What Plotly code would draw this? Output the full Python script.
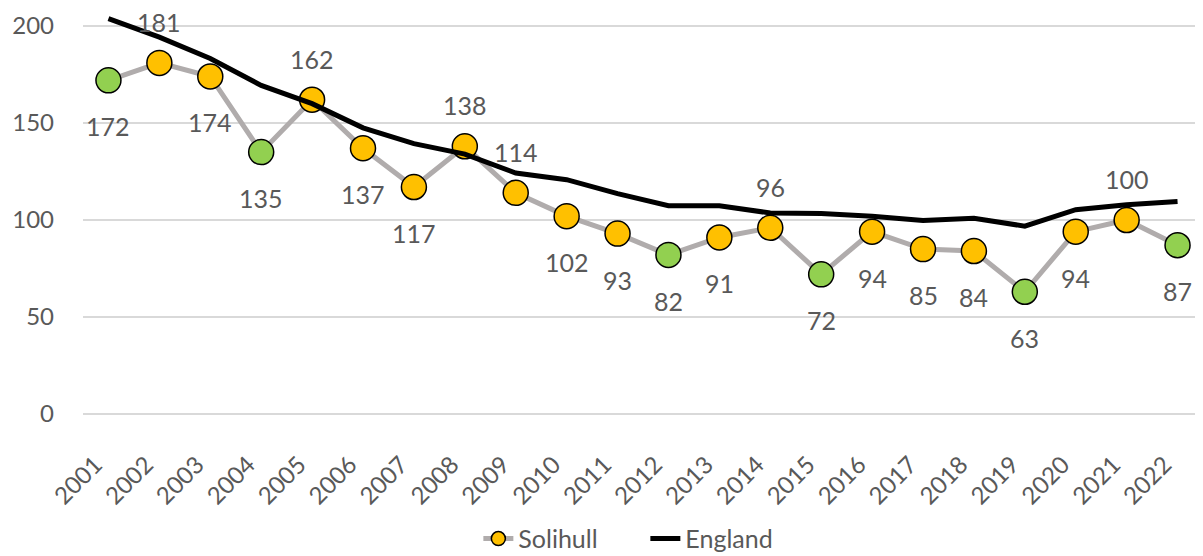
import plotly.graph_objects as go

years = [str(y) for y in range(2001, 2023)]
solihull = [172, 181, 174, 135, 162, 137, 117, 138, 114, 102, 93, 82, 91, 96, 72, 94, 85, 84, 63, 94, 100, 87]
england = [203.8, 194.3, 183.3, 169.4, 160.0, 147.5, 139.4, 134.0, 124.2, 120.8, 113.6, 107.4,
           107.4, 103.6, 103.4, 101.9, 99.7, 100.9, 96.8, 105.3, 107.9, 109.6]
# which Solihull points are green (others gold)
green_years = ["2001", "2004", "2012", "2015", "2019", "2022"]
# which labels sit above the point (others below)
label_above = ["2002", "2005", "2008", "2009", "2014", "2021"]

GOLD = "#FFC000"
GREEN = "#92D050"
TEXT = "#595959"
FONT = "Lato"
NBSP = "\u00a0"

marker_colors = [GREEN if y in green_years else GOLD for y in years]

fig = go.Figure()
fig.add_trace(go.Scatter(
    x=years, y=solihull, mode="lines+markers", name="Solihull", showlegend=False,
    line=dict(color="#B0ACAC", width=5),
    marker=dict(size=25, color=marker_colors, line=dict(color="black", width=1.5)),
    cliponaxis=False,
))
# legend proxy for Solihull (gold marker)
fig.add_trace(go.Scatter(
    x=[None], y=[None], mode="lines+markers", name="Solihull",
    line=dict(color="#B0ACAC", width=5),
    marker=dict(size=14, color=GOLD, line=dict(color="black", width=1.5)),
))
fig.add_trace(go.Scatter(
    x=years, y=england, mode="lines", name="England",
    line=dict(color="black", width=5),
))

# category axis: annotations positioned by category index
for i, (yr, v) in enumerate(zip(years, solihull)):
    fig.add_annotation(
        x=i, y=v, xref="x", yref="y", text=str(v), showarrow=False,
        yshift=41 if yr in label_above else -46,
        font=dict(family=FONT, size=25, color=TEXT),
    )

# page body has an 8px margin: figure is sized so the plot fills the window
fig.update_layout(
    width=1195, height=548,
    margin=dict(l=75, r=0, t=6, b=142, autoexpand=False),
    plot_bgcolor="white", paper_bgcolor="white",
    font=dict(family=FONT, size=24, color=TEXT),
    showlegend=True,
    legend=dict(
        orientation="h", x=0.353, xanchor="left", y=-0.312, yanchor="middle",
        font=dict(family=FONT, size=25, color=TEXT),
        itemwidth=30, tracegroupgap=0, entrywidth=122,
    ),
)
fig.update_xaxes(
    type="category", range=[-0.5, 21.5], tickangle=-45, automargin=False,
    tickmode="array", tickvals=years, ticktext=[y + NBSP * 3 for y in years],
    showgrid=False, showline=False, zeroline=False,
    tickfont=dict(family=FONT, size=24, color=TEXT),
    ticklabelstandoff=18,
)
fig.update_yaxes(
    range=[0, 206.2], tickvals=[0, 50, 100, 150, 200], automargin=False,
    showgrid=True, gridcolor="#D9D9D9", gridwidth=1.5,
    zeroline=True, zerolinecolor="#D9D9D9", zerolinewidth=1.5,
    showline=False,
    tickfont=dict(family=FONT, size=24, color=TEXT),
    ticklabelstandoff=28,
)

fig.write_html("out.html")
